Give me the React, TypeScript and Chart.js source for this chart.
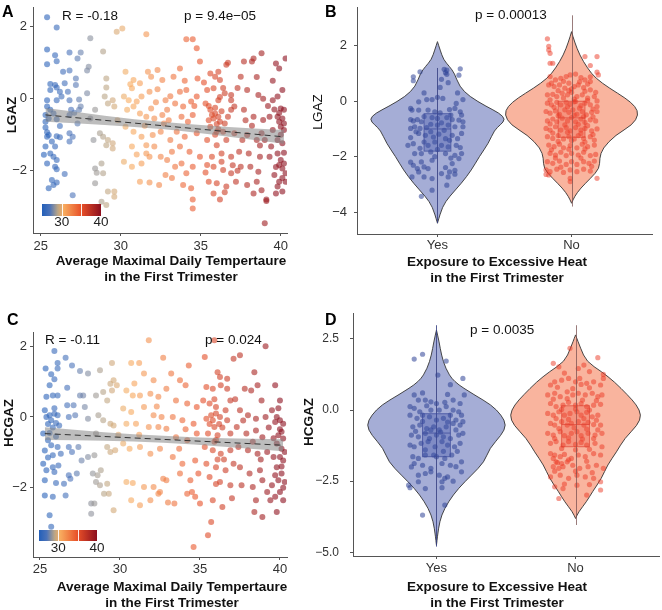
import React, { useEffect, useRef } from "react";
import { Chart, registerables } from "chart.js";

Chart.register(...registerables);

const FONT = "'Liberation Sans', Arial, Helvetica, sans-serif";
Chart.defaults.font.family = FONT;

// ---------------- data ----------------
const tempTicks = [25, 30, 35, 40];
const zTicksA = [-2, 0, 2];
const zTicksC = [-2, 0, 2];
const zTicksB = [-4, -2, 0, 2];
const zTicksD = [-5, -2.5, 0, 2.5];
const groups = ["Yes", "No"];
const groupPos = [1, 2];
const colorbarRange = [25, 40];
const colorbarLabels = [30, 40];
const colorbarMarks = [30, 35];

// Panel A: [average max temperature, LGAZ]
const scatterA = [
  [25.4,2.26],[26.0,1.98],[25.4,1.37],[25.4,0.96],[25.9,1.21],[26.0,1.04],[26.8,1.28],[27.3,1.12],[27.5,1.28],[28.1,1.68],
  [26.4,0.75],[26.8,0.78],[27.2,0.56],[27.9,0.78],[28.0,0.89],[25.6,0.41],[25.9,0.38],[26.0,0.31],[25.6,0.24],[26.2,0.19],
  [26.5,0.43],[27.2,0.38],[26.7,0.19],[25.4,-0.04],[26.0,-0.04],[26.3,0.06],[26.8,-0.04],[27.4,-0.02],[27.9,0.15],[25.4,-0.22],
  [25.6,-0.31],[25.3,-0.45],[25.5,-0.55],[25.3,-0.64],[25.8,-0.41],[26.0,-0.57],[26.2,-0.76],[26.9,-0.31],[26.8,-0.45],[27.1,-0.39],
  [27.4,-0.31],[27.5,-0.22],[27.3,-0.69],[28.1,-0.55],[28.4,-0.31],[25.4,-1.06],[25.5,-1.01],[25.3,-1.33],[25.7,-1.19],[25.9,-1.33],
  [26.0,-1.04],[26.2,-1.07],[26.8,-0.96],[27.0,-1.06],[26.8,-1.19],[25.2,-1.56],[25.6,-1.52],[25.8,-1.61],[26.0,-1.70],[25.9,-1.89],
  [26.0,-1.96],[25.4,-1.80],[26.5,-2.09],[25.7,-2.26],[25.8,-2.40],[25.5,-2.49],[26.0,-2.33],[27.0,-2.68],[28.3,-1.15],[28.4,-1.94],
  [28.5,-2.06],[28.4,-2.35],[25.3,-0.80],[25.4,-0.93],
  [28.9,1.31],[29.1,0.56],[29.1,0.31],[29.0,0.06],[29.5,-0.04],[29.6,-0.22],[29.2,-0.13],[28.7,-0.96],[28.9,-1.06],[29.2,-1.15],
  [29.5,-1.24],[29.1,-1.29],[29.5,-1.38],[28.8,-1.80],[28.9,-2.07],[29.2,-2.58],[29.6,-2.58],[29.6,-2.72],[29.1,-2.95],[28.8,-2.86],
  [29.75,1.86],[30.1,1.95],[31.6,1.79],[30.3,0.75],[30.8,0.52],[30.7,0.29],[31.2,0.43],[31.7,0.75],[31.9,0.61],[32.3,0.80],
  [32.6,0.52],[30.2,0.06],[30.5,-0.04],[31.0,-0.08],[31.3,0.06],[31.8,0.19],[32.3,0.26],[32.8,-0.04],[33.1,0.07],[30.4,-0.31],
  [30.8,-0.22],[31.2,-0.41],[31.6,-0.50],[31.9,-0.27],[32.1,-0.55],[32.6,-0.45],[32.9,-0.31],[30.3,-0.78],[30.8,-0.92],[31.3,-1.06],
  [31.6,-1.29],[32.0,-1.01],[32.5,-0.92],[33.1,-1.15],[30.7,-1.33],[30.2,-1.75],[30.7,-1.89],[31.3,-1.80],[31.8,-1.61],[32.5,-1.61],
  [32.9,-1.70],[31.2,-2.31],[31.8,-2.33],[32.4,-2.40],[32.8,-2.12],[31.6,-1.52],[32.1,-1.33],[33.4,-1.89],[33.2,-1.47],[32.7,-0.69],
  [33.3,0.61],[33.7,0.19],[34.1,0.24],[33.4,-0.13],[33.9,-0.22],[34.4,-0.08],[34.75,0.06],[33.8,-0.50],[34.2,-0.64],[34.5,-0.45],
  [33.5,-0.92],[34.0,-1.06],[34.75,-0.96],[33.7,-1.33],[34.3,-1.47],[34.95,-1.61],[33.8,-1.80],[34.5,-1.89],[34.1,-2.07],[33.9,-2.40],
  [34.4,-2.49],[34.5,-2.80],[34.5,-3.05],[34.1,1.65],[34.5,1.65],[34.75,1.40],[34.95,1.03],[33.7,0.84],[34.8,0.56],
  [35.6,0.70],[35.9,0.61],[36.2,0.52],[36.1,0.75],[36.6,0.94],[36.7,1.00],[35.4,0.24],[35.8,0.29],[36.5,0.15],[36.9,0.10],
  [35.3,-0.13],[35.6,-0.31],[35.9,-0.41],[35.8,-0.55],[36.1,-0.50],[36.2,-0.64],[36.5,-0.69],[35.6,-0.78],[36.0,-0.92],[36.4,-0.92],
  [36.9,-0.31],[35.4,-1.15],[36.0,-1.29],[36.6,-1.15],[36.3,-1.52],[35.7,-1.61],[36.9,-1.61],[35.4,-1.84],[35.8,-1.89],[36.4,-1.98],
  [36.9,-2.07],[35.5,-2.31],[36.0,-2.35],[36.6,-2.44],[35.8,-2.63],[36.2,-2.80],[37.0,-1.85],[36.9,-0.04],[36.1,-0.04],
  [35.9,-0.25],[36.0,-0.70],[35.7,-0.45],[36.3,-0.35],[36.1,-0.85],[35.5,-0.60],[36.4,0.30],[36.2,0.05],
  [37.5,0.61],[37.7,1.03],[38.2,1.03],[38.8,1.26],[38.3,1.12],[37.9,0.24],[38.6,0.10],[38.9,0.0],[37.1,-0.22],[37.7,-0.31],
  [38.3,-0.50],[38.9,-0.59],[37.1,-0.96],[37.9,-1.01],[38.5,-1.15],[39.0,-1.15],[37.4,-1.47],[38.0,-1.52],[38.7,-1.61],[37.5,-1.89],
  [38.1,-1.89],[38.6,-2.03],[37.2,-2.31],[37.9,-2.40],[38.5,-2.31],[38.8,-2.54],[38.3,-2.63],[39.1,-2.80],[39.1,-2.84],[39.0,-3.46],
  [37.6,-1.15],[38.8,-0.96],
  [39.7,0.98],[39.9,0.84],[40.3,1.12],[40.1,0.24],[39.8,0.06],[39.5,-0.04],[40.0,-0.27],[40.2,-0.31],[39.8,-0.50],[40.1,-0.55],
  [39.9,-0.64],[40.2,-0.69],[40.0,-0.78],[40.2,-0.87],[39.3,-0.50],[39.5,-0.87],[39.8,-1.15],[40.1,-1.24],[39.8,-1.52],[40.0,-1.70],
  [40.2,-1.80],[39.9,-1.84],[40.1,-1.94],[40.3,-2.07],[39.6,-2.12],[39.9,-2.31],[40.3,-2.31],[39.8,-2.44],[40.1,-2.58],[39.7,-2.63],
  [39.4,-1.33],[39.3,-1.61],
  [35.2,0.45],[35.5,-0.2],[35.9,-1.0],[36.3,-1.75],[35.3,-2.05],[36.7,-0.5],[37.3,0.3],[37.8,-0.6],[38.2,-0.75],[38.7,-1.3],
  [39.2,-0.2],[39.6,-0.3],[39.9,-0.4],[40.0,-1.0],[40.2,-1.5],[39.7,-1.9],[40.1,-2.2],[39.5,0.5],[38.5,0.6],[37.3,-2.0],
  [36.5,-2.6],[33.0,-0.6],[32.2,-0.1],[31.5,-0.75],[30.6,0.4],[31.0,-1.55],[29.8,-0.6],[34.0,0.5],[34.6,-0.2],[33.2,-2.2]
];
const fitAx = [25.3, 40.2];
const fitAy = [-0.45, -1.06];
const bandX = [25.3, 29, 32.7, 36.5, 40.2];
const bandALow = [-0.64, -0.73, -0.85, -1.04, -1.25];
const bandAHigh = [-0.26, -0.47, -0.65, -0.78, -0.87];

// Panel C: [average max temperature, HCGAZ]
const scatterC = [
  [25.9,1.87],[25.35,1.37],[26.1,1.53],[26.1,1.37],[26.6,1.68],[25.7,1.21],[25.9,1.07],[27.0,1.46],[27.5,1.30],[28.0,1.23],
  [25.6,0.90],[25.8,0.61],[26.1,0.61],[26.7,0.83],[27.5,0.61],[27.7,0.61],[25.4,0.57],[26.7,0.33],[27.1,0.33],[27.8,0.28],
  [25.3,0.19],[25.6,0.05],[25.9,0.09],[26.1,0.05],[25.4,0.0],[25.7,-0.09],[26.0,-0.17],[26.2,-0.24],[26.8,0.0],[27.2,0.05],
  [28.0,-0.05],[25.2,-0.47],[25.5,-0.66],[25.7,-0.80],[25.8,-1.08],[26.1,-0.85],[26.3,-1.04],[26.8,-0.85],[27.0,-0.99],[27.4,-0.85],
  [27.6,-1.23],[28.0,-1.13],[25.2,-1.32],[25.4,-1.51],[25.8,-1.42],[25.9,-1.56],[26.15,-1.37],[26.8,-1.65],[26.9,-1.75],[27.3,-1.60],
  [25.3,-1.79],[26.0,-1.87],[26.5,-1.89],[25.3,-2.22],[25.8,-2.26],[26.6,-2.22],[25.6,-2.78],[25.7,-3.11],[28.2,-2.74],
  [25.5,-0.20],[25.8,-0.30],[25.6,-0.45],[26.0,-0.55],[25.9,0.25],[25.3,-0.95],[25.5,-1.15],
  [28.75,1.32],[28.5,0.61],[28.95,0.71],[29.4,0.94],[29.6,1.04],[29.8,0.90],[29.5,0.75],[29.2,0.47],[28.65,0.05],[28.95,-0.09],
  [29.4,-0.19],[29.6,-0.24],[28.5,-0.47],[29.2,-0.85],[29.4,-0.99],[29.7,-0.94],[28.4,-1.08],[28.3,-1.60],[28.6,-1.65],[28.8,-1.51],
  [28.5,-1.84],[28.75,-1.93],[29.2,-1.89],[29.3,-2.17],[29.0,-2.17],[29.6,-2.64],[28.2,-2.45],[28.4,-2.45],
  [29.5,1.53],[30.7,1.53],[31.8,2.17],[31.2,1.53],[32.7,1.68],[31.5,1.23],[32.1,1.04],[30.4,0.75],[30.8,0.61],[31.25,0.61],
  [31.9,0.66],[32.4,0.57],[32.9,0.80],[30.2,0.24],[30.7,0.14],[31.5,0.28],[32.1,0.05],[32.6,0.0],[30.4,-0.19],[31.0,-0.19],
  [31.8,-0.28],[32.4,-0.28],[32.9,-0.33],[30.6,-0.90],[31.25,-0.85],[31.9,-1.04],[32.5,-0.90],[30.2,-0.75],[30.4,-1.84],[30.8,-1.87],
  [31.5,-1.98],[32.1,-1.98],[32.5,-2.12],[32.9,-1.79],[30.7,-2.36],[31.25,-2.50],[31.9,-2.36],[32.4,-2.17],[33.0,-2.42],[32.7,-1.75],
  [33.2,1.23],[33.75,1.04],[34.1,0.90],[33.5,0.47],[34.2,0.38],[34.8,0.28],[33.3,0.0],[33.9,-0.09],[34.6,-0.19],[33.5,-0.57],
  [34.2,-0.66],[34.8,-0.47],[33.3,-1.13],[33.9,-1.32],[34.7,-1.23],[33.75,-1.60],[34.4,-1.79],[34.9,-1.60],[34.2,-2.17],[34.7,-2.26],
  [35.0,-2.45],[33.4,-2.45],[34.5,-2.12],[34.6,-3.68],[34.3,1.46],
  [35.3,1.70],[35.9,2.17],[36.1,1.27],[36.25,1.13],[36.7,1.08],[37.1,1.65],[35.4,0.85],[35.8,0.80],[36.3,0.90],[36.7,0.80],
  [35.2,0.47],[35.6,0.38],[36.0,0.28],[36.6,0.19],[36.9,0.47],[35.4,-0.05],[35.8,-0.09],[36.25,0.0],[36.7,-0.09],[35.9,-0.28],
  [35.5,-0.47],[36.1,-0.52],[36.9,-0.47],[35.3,-0.85],[35.8,-0.94],[36.3,-1.04],[36.9,-0.94],[35.4,-1.32],[36.0,-1.42],[36.6,-1.51],
  [35.6,-1.70],[36.25,-1.84],[36.9,-1.93],[35.8,-2.36],[36.4,-2.55],[35.7,-2.97],[35.5,-3.35],[37.1,-1.32],
  [36.0,0.10],[36.2,-0.20],[35.9,-0.70],[36.1,-1.20],[35.7,0.05],
  [37.5,1.75],[38.4,1.27],[37.8,0.80],[38.2,0.75],[38.85,0.47],[37.5,0.19],[38.0,0.05],[38.5,-0.05],[39.1,0.0],[37.3,-0.28],
  [37.9,-0.47],[38.5,-0.38],[38.9,-0.57],[37.4,-0.85],[38.0,-0.94],[38.6,-1.04],[39.2,-0.99],[37.5,-1.42],[38.1,-1.60],[38.75,-1.51],
  [37.6,-1.93],[38.3,-1.98],[38.9,-1.79],[39.2,-2.12],[38.5,-2.36],[38.4,-2.69],[38.9,-2.83],[39.1,2.0],
  [39.7,0.90],[40.0,0.47],[39.5,0.19],[39.8,0.0],[40.0,-0.09],[40.2,-0.19],[39.7,-0.14],[40.1,-0.42],[39.9,-0.52],[40.2,-0.61],
  [39.8,-0.75],[40.1,-0.90],[40.3,-0.99],[39.6,-1.13],[40.0,-1.13],[40.2,-1.23],[39.8,-1.42],[40.1,-1.60],[39.9,-1.79],[40.3,-1.84],
  [39.5,-1.93],[40.0,-2.12],[39.7,-2.26],[40.2,-2.36],[39.8,-2.69],[39.4,-2.36],
  [35.6,-0.2],[36.0,-0.65],[36.4,-0.3],[35.9,0.5],[36.5,-1.2],[36.0,-1.9],[37.2,0.5],[37.7,-0.1],[38.3,-0.7],[38.8,-1.2],
  [39.3,-0.3],[39.6,-0.6],[40.0,-0.35],[40.1,-1.4],[39.7,-1.65],[40.2,-2.0],[39.9,0.25],[38.6,0.9],[37.0,-2.3],[34.1,-0.35],
  [33.7,-0.9],[32.3,0.3],[31.2,-0.5],[30.9,0.95],[29.9,-0.5]
];
const fitCx = [25.3, 40.2];
const fitCy = [-0.47, -0.80];
const bandCLow = [-0.65, -0.67, -0.73, -0.84, -0.97];
const bandCHigh = [-0.29, -0.43, -0.53, -0.60, -0.63];

// Panel B violins: density outline (value, half width in category units)
const vBYes = [2.15, 1.85, 1.5, 1.25, 1.01, 0.53, 0.17, -0.19, -0.43, -0.65, -0.85, -1.04, -1.52, -1.99, -2.48, -2.96, -3.44, -3.8, -4.4];
const hwBYes = [0, 0.02, 0.045, 0.09, 0.127, 0.164, 0.239, 0.365, 0.462, 0.507, 0.47, 0.425, 0.38, 0.313, 0.254, 0.179, 0.089, 0.037, 0];
const vBNo = [2.51, 2.15, 1.67, 1.19, 0.83, 0.47, 0.11, -0.19, -0.49, -0.85, -1.22, -1.70, -2.06, -2.42, -2.78, -3.14, -3.44, -3.68];
const hwBNo = [0, 0.022, 0.06, 0.119, 0.179, 0.283, 0.403, 0.477, 0.5, 0.455, 0.328, 0.231, 0.209, 0.209, 0.142, 0.067, 0.022, 0];
const boxBYes = [-1.8, -1.0, -0.45];
const boxBNo = [-1.3, -0.6, 0.0];
const whiskerBYes = [-4.4, 1.2];
const whiskerBNo = [-3.8, 3.1];
// jittered points: [offset from group, LGAZ]
const jitBYes = [
  [-0.18,0.88],[-0.18,0.74],[-0.13,1.06],[0.05,1.15],[0.06,1.03],[0.07,0.97],[0.03,0.79],[0.08,0.67],[0.17,1.17],[0.16,0.94],
  [0.07,1.12],[-0.14,-0.02],[-0.08,0.06],[-0.04,0.06],[0.0,0.14],[0.04,0.10],[0.14,-0.08],[0.19,0.06],[-0.20,-0.26],[-0.19,-0.32],
  [-0.14,-0.32],[-0.07,-0.32],[-0.02,-0.38],[0.02,-0.42],[0.09,-0.30],[0.13,-0.26],[0.17,-0.38],[0.18,-0.50],[-0.20,-0.66],[-0.18,-0.71],
  [-0.15,-0.66],[-0.12,-0.74],[-0.04,-0.59],[0.07,-0.59],[0.11,-0.66],[0.16,-0.68],[0.19,-0.74],[-0.20,-0.98],[-0.17,-0.92],[-0.13,-0.98],
  [-0.08,-0.95],[-0.05,-0.83],[0.0,-0.86],[0.03,-0.78],[0.08,-0.86],[0.13,-0.92],[0.19,-0.92],[-0.20,-1.31],[-0.14,-1.16],[-0.09,-1.23],
  [-0.03,-1.29],[0.01,-1.19],[0.06,-1.35],[0.11,-1.23],[0.18,-1.16],[-0.22,-1.59],[-0.18,-1.53],[-0.10,-1.47],[-0.07,-1.59],[-0.02,-1.47],
  [0.03,-1.59],[0.09,-1.41],[0.14,-1.59],[0.17,-1.67],[-0.17,-1.89],[-0.12,-1.89],[-0.05,-1.83],[0.0,-1.74],[0.06,-1.89],[0.13,-1.95],
  [0.18,-1.89],[0.16,-2.07],[-0.12,-2.19],[-0.04,-2.13],[0.11,-2.25],[-0.18,-2.31],[-0.15,-2.43],[-0.10,-2.37],[-0.07,-2.43],[0.06,-2.39],
  [0.09,-2.55],[0.13,-2.49],[-0.14,-2.55],[-0.19,-2.73],[-0.10,-2.73],[-0.04,-2.79],[0.03,-2.61],[0.08,-2.73],[0.13,-2.63],[0.07,-3.03],
  [-0.04,-3.21],[-0.12,-3.43],
  [-0.1,-0.55],[0.0,-0.62],[0.1,-0.5],[-0.16,-1.1],[-0.05,-1.1],[0.05,-1.05],[0.15,-1.35],[-0.13,-1.7],[0.08,-1.65],[-0.02,-2.0],
  [0.1,-2.05],[-0.2,-2.2],[0.15,0.3],[-0.1,0.3],[0.02,0.5]
];
const jitBNo = [
  [-0.18,2.25],[-0.17,1.98],[-0.17,1.85],[-0.16,1.73],[-0.16,1.37],[-0.14,1.37],[0.10,1.61],[0.19,1.61],[0.14,1.29],[0.19,1.05],
  [0.20,0.95],[-0.16,0.89],[-0.12,0.77],[-0.08,0.83],[-0.04,0.89],[-0.01,0.95],[0.03,0.98],[0.07,0.85],[0.10,0.77],[0.14,0.71],
  [-0.17,0.59],[-0.13,0.53],[-0.09,0.59],[-0.05,0.47],[-0.02,0.65],[0.02,0.53],[0.05,0.59],[0.09,0.49],[0.14,0.41],[0.18,0.32],
  [-0.18,0.23],[-0.14,0.25],[-0.11,0.17],[-0.07,0.29],[-0.03,0.23],[0.0,0.32],[0.04,0.17],[0.08,0.23],[0.12,0.11],[0.17,0.17],
  [0.19,0.01],[-0.18,-0.07],[-0.15,-0.13],[-0.11,-0.04],[-0.08,-0.13],[-0.04,-0.04],[-0.01,-0.11],[0.03,-0.01],[0.07,-0.16],[0.10,-0.07],
  [0.14,-0.13],[0.19,-0.19],[-0.19,-0.37],[-0.16,-0.43],[-0.12,-0.35],[-0.09,-0.47],[-0.05,-0.31],[-0.02,-0.40],[0.01,-0.31],[0.04,-0.47],
  [0.08,-0.37],[0.11,-0.49],[0.15,-0.40],[0.19,-0.37],[-0.18,-0.71],[-0.14,-0.64],[-0.11,-0.74],[-0.07,-0.61],[-0.03,-0.71],[0.0,-0.59],
  [0.03,-0.74],[0.07,-0.64],[0.10,-0.76],[0.14,-0.67],[0.18,-0.71],[-0.19,-0.98],[-0.16,-1.04],[-0.12,-0.92],[-0.08,-1.04],[-0.04,-0.95],
  [-0.01,-1.07],[0.03,-0.95],[0.07,-1.04],[0.10,-0.98],[0.15,-1.07],[0.19,-1.0],[-0.18,-1.28],[-0.14,-1.34],[-0.10,-1.24],[-0.06,-1.36],
  [-0.02,-1.28],[0.02,-1.36],[0.05,-1.24],[0.09,-1.34],[0.14,-1.28],[0.17,-1.40],[-0.17,-1.58],[-0.13,-1.64],[-0.09,-1.55],[-0.06,-1.68],
  [-0.01,-1.60],[0.04,-1.68],[0.08,-1.55],[0.12,-1.64],[0.17,-1.58],[-0.16,-1.88],[-0.12,-1.94],[-0.08,-1.84],[-0.04,-1.96],[0.0,-1.88],
  [0.05,-1.94],[0.09,-1.84],[0.14,-1.96],[0.18,-1.92],[-0.18,-2.18],[-0.14,-2.24],[-0.09,-2.16],[-0.04,-2.28],[0.0,-2.18],[0.04,-2.28],
  [0.09,-2.18],[0.13,-2.24],[0.17,-2.16],[-0.19,-2.48],[-0.16,-2.54],[-0.11,-2.45],[-0.06,-2.57],[-0.01,-2.48],[0.04,-2.54],[0.09,-2.45],
  [0.14,-2.52],[-0.19,-2.64],[-0.17,-2.66],[-0.01,-2.78],[-0.01,-2.90],[0.19,-2.78],
  [-0.15,0.65],[-0.06,0.72],[0.06,0.7],[0.12,0.62],[-0.1,0.38],[0.0,0.45],[0.1,0.36],[-0.16,0.05],[-0.06,0.12],[0.02,0.08],
  [0.12,0.02],[-0.13,-0.22],[-0.03,-0.2],[0.06,-0.25],[0.16,-0.28],[-0.1,-0.52],[0.02,-0.5],[0.09,-0.55],[0.16,-0.56],[-0.16,-0.82],
  [-0.05,-0.85],[0.05,-0.83],[0.12,-0.88],[-0.14,-1.15],[-0.03,-1.12],[0.07,-1.16],[0.16,-1.2],[-0.1,-1.45],[0.0,-1.42],[0.1,-1.47],
  [-0.15,-1.75],[-0.02,-1.73],[0.1,-1.72],[-0.12,-2.05],[0.07,-2.05],[0.15,-2.35],[-0.08,-2.38],[0.02,-0.02],[-0.02,0.38],[0.14,0.88]
];

// Panel D violins
const vDYes = [2.81, 2.40, 1.93, 1.47, 1.0, 0.53, 0.18, -0.18, -0.53, -0.88, -1.35, -1.82, -2.29, -2.75, -3.22, -3.69, -4.16, -4.75];
const hwDYes = [0, 0.019, 0.036, 0.065, 0.122, 0.273, 0.395, 0.467, 0.503, 0.467, 0.381, 0.345, 0.252, 0.158, 0.086, 0.036, 0.014, 0];
const vDNo = [2.64, 2.17, 1.70, 1.35, 0.99, 0.53, 0.18, -0.18, -0.53, -1.0, -1.47, -1.93, -2.40, -2.87, -3.22, -3.58, -3.81];
const hwDNo = [0, 0.036, 0.079, 0.187, 0.28, 0.374, 0.439, 0.474, 0.446, 0.352, 0.295, 0.23, 0.187, 0.122, 0.079, 0.022, 0];
const boxDYes = [-1.64, -0.81, -0.13];
const boxDNo = [-1.29, -0.51, 0.15];
const whiskerDYes = [-4.8, 2.98];
const whiskerDNo = [-4.04, 2.98];
const jitDYes = [
  [-0.16,1.79],[-0.10,1.96],[0.07,1.72],[0.01,1.23],[0.19,1.11],[0.10,0.89],[-0.16,0.53],[-0.13,0.35],[-0.08,0.35],[-0.04,0.29],
  [0,0.23],[0.06,0.27],[0.12,0.35],[0.17,0.23],[0.20,0.53],[-0.19,0.12],[-0.16,0.06],[-0.12,-0.06],[-0.07,0.15],[-0.04,0.0],
  [0.02,0.0],[0.07,0.12],[0.12,0.0],[0.16,-0.06],[-0.19,-0.18],[-0.14,-0.29],[-0.10,-0.18],[-0.05,-0.24],[0,-0.35],[0.05,-0.29],
  [0.10,-0.18],[0.14,-0.35],[0.18,-0.18],[-0.17,-0.59],[-0.12,-0.53],[-0.07,-0.65],[-0.04,-0.70],[-0.02,-0.59],[0.02,-0.70],[0.07,-0.59],
  [0.12,-0.47],[0.17,-0.53],[0.19,-0.41],[-0.18,-0.88],[-0.13,-0.94],[-0.08,-0.82],[-0.05,-1.0],[0,-0.88],[0.05,-0.94],[0.10,-1.0],
  [0.16,-0.88],[0.19,-0.82],[-0.19,-1.23],[-0.16,-1.29],[-0.11,-1.17],[-0.06,-1.11],[-0.01,-1.29],[0.04,-1.11],[0.08,-1.23],[0.13,-1.29],
  [0.17,-1.17],[-0.17,-1.64],[-0.13,-1.70],[-0.08,-1.58],[-0.02,-1.58],[0,-1.64],[0.06,-1.70],[0.11,-1.58],[0.18,-1.82],[-0.16,-1.88],
  [-0.10,-1.94],[-0.04,-2.05],[0.04,-1.88],[0.10,-1.94],[0.14,-1.99],[-0.13,-2.29],[-0.08,-2.23],[-0.04,-2.17],[0.02,-2.29],[0.08,-2.35],
  [0.18,-2.17],[-0.20,-2.64],[-0.19,-2.73],[-0.13,-2.52],[-0.08,-2.76],[0.04,-2.52],[0.04,-2.73],[0.06,-3.34],[-0.10,-3.69],[0.06,-2.40],
  [-0.1,-0.4],[0.08,-0.42],[-0.15,-0.75],[0.03,-0.78],[0.14,-0.7],[-0.08,-1.4],[0.05,-1.45],[0.15,-1.45],[-0.18,-2.0],[0.12,-2.5],
  [-0.1,0.6],[0.08,0.55]
];
const jitDNo = [
  [-0.04,2.17],[0.16,1.84],[-0.16,1.64],[-0.12,1.52],[0.02,1.46],[0.06,1.58],[0.20,1.25],[0.20,1.11],[-0.18,0.88],[-0.15,0.99],
  [-0.10,1.05],[-0.05,1.11],[0,0.99],[0.03,1.11],[0.08,0.94],[0.13,0.99],[0.18,0.88],[-0.20,0.53],[-0.15,0.59],[-0.11,0.47],
  [-0.06,0.64],[-0.02,0.53],[0.02,0.59],[0.07,0.53],[0.12,0.59],[0.16,0.47],[0.19,0.53],[-0.18,0.23],[-0.14,0.12],[-0.09,0.17],
  [-0.05,0.27],[0,0.17],[0.04,0.23],[0.08,0.12],[0.13,0.17],[0.18,0.20],[-0.20,-0.12],[-0.16,-0.18],[-0.12,-0.06],[-0.08,-0.18],
  [-0.04,-0.12],[0.01,-0.06],[0.04,-0.18],[0.08,-0.08],[0.12,-0.24],[0.16,-0.18],[-0.18,-0.47],[-0.15,-0.53],[-0.10,-0.41],[-0.06,-0.53],
  [-0.03,-0.47],[0.02,-0.41],[0.06,-0.53],[0.09,-0.43],[0.13,-0.51],[0.18,-0.53],[-0.20,-0.82],[-0.16,-0.88],[-0.11,-0.76],[-0.08,-0.90],
  [-0.03,-0.82],[0.01,-0.76],[0.04,-0.90],[0.09,-0.82],[0.14,-0.88],[0.19,-0.82],[-0.18,-1.17],[-0.14,-1.11],[-0.09,-1.23],[-0.05,-1.11],
  [0,-1.21],[0.04,-1.14],[0.08,-1.23],[0.14,-1.17],[0.19,-1.29],[-0.18,-1.53],[-0.15,-1.58],[-0.11,-1.64],[-0.08,-1.56],[-0.03,-1.70],
  [0.02,-1.58],[0.07,-1.64],[0.13,-1.53],[0.18,-1.58],[-0.14,-1.82],[-0.10,-1.88],[-0.06,-1.82],[-0.16,-1.99],[-0.12,-2.05],[-0.09,-1.99],
  [-0.02,-1.94],[0.03,-2.05],[0.09,-1.99],[0.15,-1.94],[0.20,-2.05],[-0.18,-2.35],[-0.11,-2.29],[-0.05,-2.40],[0.01,-2.29],[0.07,-2.35],
  [0.13,-2.40],[0.18,-2.52],[-0.15,-2.70],[-0.09,-2.76],[0.01,-2.64],[0.08,-2.99],[-0.12,-3.11],[0.18,-2.81],
  [-0.13,0.8],[-0.02,0.75],[0.1,0.78],[-0.16,0.38],[-0.06,0.4],[0.05,0.35],[0.15,0.33],[-0.1,0.02],[0.0,0.04],[0.1,0.0],
  [-0.14,-0.3],[-0.05,-0.33],[0.06,-0.3],[0.15,-0.36],[-0.12,-0.65],[-0.01,-0.62],[0.08,-0.67],[0.16,-0.7],[-0.15,-1.0],[-0.05,-0.98],
  [0.05,-1.02],[0.13,-1.0],[-0.1,-1.35],[0.0,-1.4],[0.1,-1.38],[-0.16,-1.7],[-0.05,-1.75],[0.08,-1.8],[-0.13,-1.85],[-0.15,-2.15],
  [0.0,-2.15],[0.12,-2.2],[-0.08,-2.6],[0.1,-2.62],[0.04,0.9],[-0.08,1.3],[0.1,1.35]
];

// ---------------- styles ----------------
const TEMP_STOP_T = [25, 27, 29, 30.5, 35, 40];
const TEMP_STOP_C = [[35, 95, 185], [75, 115, 185], [185, 165, 135], [248, 172, 95], [232, 80, 40], [140, 15, 30]];

function rgba(c: number[], a: number) {
  return `rgba(${c[0]},${c[1]},${c[2]},${a})`;
}
function tempColor(t: number, a: number) {
  const T = TEMP_STOP_T, C = TEMP_STOP_C;
  if (t <= T[0]) return rgba(C[0], a);
  for (let i = 1; i < T.length; i++) {
    if (t <= T[i]) {
      const f = (t - T[i - 1]) / (T[i] - T[i - 1]);
      return rgba(C[i - 1].map((c, k) => Math.round(c + (C[i][k] - c) * f)), a);
    }
  }
  return rgba(C[C.length - 1], a);
}
const minusFmt = (v: number, d: number) => (v < 0 ? "\u2212" : "") + Math.abs(v).toFixed(d);

function txt(ctx: any, s: string, x: number, y: number, font: string, align = "left", base = "middle", color = "#111") {
  ctx.font = font;
  ctx.textAlign = align;
  ctx.textBaseline = base;
  ctx.fillStyle = color;
  ctx.fillText(s, x, y);
}
function vtxt(ctx: any, s: string, x: number, y: number, font: string) {
  ctx.save();
  ctx.translate(x, y);
  ctx.rotate(-Math.PI / 2);
  txt(ctx, s, 0, 0, font, "center", "middle");
  ctx.restore();
}

function axis(min: number, max: number, ticks: number[], fmt: (v: number) => string, pad: number, fit: (s: any) => void, fontSize = 13) {
  return {
    type: "linear",
    min,
    max,
    afterBuildTicks: (s: any) => {
      s.ticks = ticks.map((v) => ({ value: v }));
    },
    afterFit: fit,
    ticks: {
      callback: (v: any) => fmt(Number(v)),
      padding: pad,
      color: "#333",
      font: { family: FONT, size: fontSize },
      maxRotation: 0,
      autoSkip: false,
    },
    grid: { display: true, drawOnChartArea: false, drawTicks: true, tickLength: 3, color: "#555", tickColor: "#555" },
    border: { display: true, color: "#555", width: 1 },
  };
}
const xFit = (s: any) => {
  s.height = 24;
  s.paddingLeft = 0;
  s.paddingRight = 0;
};
const yFit = (w: number) => (s: any) => {
  s.width = w;
  s.paddingTop = 0;
  s.paddingBottom = 0;
};

// ---------------- scatter panel ----------------
function makeScatter(canvas: HTMLCanvasElement, p: any) {
  const decor = {
    id: "decor" + p.letter,
    afterDraw(chart: any) {
      const ctx = chart.ctx;
      ctx.save();
      txt(ctx, p.letter, p.letterXY[0], p.letterXY[1], "bold 16px " + FONT, "left", "alphabetic", "#000");
      txt(ctx, p.rText, p.rXY[0], p.rXY[1], "13.5px " + FONT);
      txt(ctx, p.pText, p.pXY[0], p.pXY[1], "13.5px " + FONT);
      vtxt(ctx, p.yTitle, p.yTitleXY[0], p.yTitleXY[1], "bold 13.5px " + FONT);
      p.xTitle.forEach((s: string, i: number) => txt(ctx, s, p.xTitleX, p.xTitleY[i], "bold 13.5px " + FONT, "center"));
      const [bx, by, bw, bh, ly] = p.bar;
      const span = colorbarRange[1] - colorbarRange[0];
      const g = ctx.createLinearGradient(bx, 0, bx + bw, 0);
      TEMP_STOP_T.forEach((t, i) => g.addColorStop((t - colorbarRange[0]) / span, rgba(TEMP_STOP_C[i], 1)));
      ctx.fillStyle = g;
      ctx.fillRect(bx, by, bw, bh);
      ctx.strokeStyle = "rgba(255,255,255,0.9)";
      ctx.lineWidth = 1;
      colorbarMarks.forEach((t) => {
        const x = Math.round(bx + ((t - colorbarRange[0]) / span) * bw) + 0.5;
        ctx.beginPath();
        ctx.moveTo(x, by);
        ctx.lineTo(x, by + bh);
        ctx.stroke();
      });
      colorbarLabels.forEach((t) =>
        txt(ctx, String(t), bx + ((t - colorbarRange[0]) / span) * bw, ly, "13.5px " + FONT, "center", "middle", "#222")
      );
      ctx.restore();
    },
  };
  return new Chart(canvas, {
    type: "scatter",
    data: {
      datasets: [
        {
          type: "line",
          data: p.fitX.map((x: number, i: number) => ({ x, y: p.fitY[i] })),
          borderColor: "#333",
          borderWidth: 1,
          borderDash: [6, 4],
          pointRadius: 0,
          fill: false,
        },
        {
          type: "line",
          data: bandX.map((x, i) => ({ x, y: p.bandHigh[i] })),
          borderColor: "rgba(0,0,0,0)",
          borderWidth: 0,
          pointRadius: 0,
          cubicInterpolationMode: "monotone",
          fill: "+1",
          backgroundColor: "rgba(135,135,135,0.55)",
        },
        {
          type: "line",
          data: bandX.map((x, i) => ({ x, y: p.bandLow[i] })),
          borderColor: "rgba(0,0,0,0)",
          borderWidth: 0,
          pointRadius: 0,
          cubicInterpolationMode: "monotone",
          fill: false,
        },
        {
          type: "scatter",
          data: p.points.map((q: number[]) => ({ x: q[0], y: q[1] })),
          backgroundColor: p.points.map((q: number[]) => tempColor(q[0], 0.6)),
          borderWidth: 0,
          pointRadius: 3,
          pointHoverRadius: 3,
        },
      ],
    },
    options: {
      animation: false,
      responsive: false,
      devicePixelRatio: 1,
      events: [],
      layout: { padding: p.padding },
      plugins: { legend: { display: false }, tooltip: { enabled: false } },
      scales: {
        x: axis(p.xRange[0], p.xRange[1], tempTicks, (v) => String(v), p.xPad, xFit),
        y: axis(p.yRange[0], p.yRange[1], p.yTicks, (v) => minusFmt(v, 0), 3, yFit(p.yWidth)),
      },
    },
    plugins: [decor],
  } as any);
}

// ---------------- violin panel ----------------
function smoothClosed(ctx: any, pts: number[][]) {
  const n = pts.length;
  const mid = (a: number[], b: number[]) => [(a[0] + b[0]) / 2, (a[1] + b[1]) / 2];
  ctx.beginPath();
  const m0 = mid(pts[n - 1], pts[0]);
  ctx.moveTo(m0[0], m0[1]);
  for (let i = 0; i < n; i++) {
    const a = pts[i], b = pts[(i + 1) % n];
    const m = mid(a, b);
    ctx.quadraticCurveTo(a[0], a[1], m[0], m[1]);
  }
  ctx.closePath();
}

function makeViolin(canvas: HTMLCanvasElement, p: any) {
  const fills = ["rgba(165,173,214,1)", "rgba(249,180,158,1)"];
  const boxFill = ["rgba(60,80,165,0.35)", "rgba(235,75,55,0.3)"];
  const boxLine = ["rgba(60,75,155,0.75)", "rgba(220,60,45,0.65)"];
  const whiskerCol = ["rgba(55,65,130,0.85)", "rgba(120,80,80,0.75)"];
  const ptCol = ["rgba(45,65,150,0.55)", "rgba(235,55,35,0.5)"];
  const plugin = {
    id: "violin" + p.letter,
    beforeDatasetsDraw(chart: any) {
      const ctx = chart.ctx, xs = chart.scales.x, ys = chart.scales.y;
      ctx.save();
      p.violins.forEach((vi: any, g: number) => {
        const pts: number[][] = [];
        for (let i = 0; i < vi.v.length; i++)
          pts.push([xs.getPixelForValue(groupPos[g] - vi.hw[i]), ys.getPixelForValue(vi.v[i])]);
        for (let i = vi.v.length - 1; i >= 0; i--)
          pts.push([xs.getPixelForValue(groupPos[g] + vi.hw[i]), ys.getPixelForValue(vi.v[i])]);
        smoothClosed(ctx, pts);
        ctx.fillStyle = fills[g];
        ctx.fill();
        ctx.strokeStyle = "#333";
        ctx.lineWidth = 0.9;
        ctx.stroke();
      });
      ctx.restore();
    },
    afterDatasetsDraw(chart: any) {
      const ctx = chart.ctx, xs = chart.scales.x, ys = chart.scales.y;
      ctx.save();
      p.violins.forEach((vi: any, g: number) => {
        const cx = Math.round(xs.getPixelForValue(groupPos[g])) + 0.5;
        ctx.strokeStyle = whiskerCol[g];
        ctx.lineWidth = 1;
        ctx.beginPath();
        ctx.moveTo(cx, ys.getPixelForValue(vi.whisker[1]));
        ctx.lineTo(cx, ys.getPixelForValue(vi.whisker[0]));
        ctx.stroke();
        const x0 = xs.getPixelForValue(groupPos[g] - 0.1), x1 = xs.getPixelForValue(groupPos[g] + 0.1);
        const yq1 = ys.getPixelForValue(vi.box[0]), ym = ys.getPixelForValue(vi.box[1]), yq3 = ys.getPixelForValue(vi.box[2]);
        ctx.fillStyle = boxFill[g];
        ctx.fillRect(x0, yq3, x1 - x0, yq1 - yq3);
        ctx.strokeStyle = boxLine[g];
        ctx.strokeRect(x0, yq3, x1 - x0, yq1 - yq3);
        ctx.beginPath();
        ctx.moveTo(x0, ym);
        ctx.lineTo(x1, ym);
        ctx.stroke();
      });
      txt(ctx, p.letter, p.letterXY[0], p.letterXY[1], "bold 16px " + FONT, "left", "alphabetic", "#000");
      txt(ctx, p.pText, p.pXY[0], p.pXY[1], "13.5px " + FONT);
      vtxt(ctx, p.yTitle, p.yTitleXY[0], p.yTitleXY[1], (p.yTitleBold ? "bold " : "") + "13.5px " + FONT);
      p.xTitle.forEach((s: string, i: number) => txt(ctx, s, p.xTitleX, p.xTitleY[i], "bold 13.5px " + FONT, "center"));
      ctx.restore();
    },
  };
  return new Chart(canvas, {
    type: "scatter",
    data: {
      datasets: p.jitter.map((pts: number[][], g: number) => ({
        data: pts.map((q) => ({ x: groupPos[g] + q[0], y: q[1] })),
        backgroundColor: ptCol[g],
        borderWidth: 0,
        pointRadius: 2.6,
        pointHoverRadius: 2.6,
      })),
    },
    options: {
      animation: false,
      responsive: false,
      devicePixelRatio: 1,
      events: [],
      layout: { padding: p.padding },
      plugins: { legend: { display: false }, tooltip: { enabled: false } },
      scales: {
        x: axis(0.4, 2.6, groupPos, (v) => groups[groupPos.indexOf(v)] || "", p.xPad, xFit),
        y: axis(p.yRange[0], p.yRange[1], p.yTicks, (v) => minusFmt(v, p.yDigits), p.yPad, yFit(p.yWidth), p.yFont),
      },
    },
    plugins: [plugin],
  } as any);
}

// ---------------- panel layouts ----------------
const heatTitle = ["Exposure to Excessive Heat", "in the First Trimester"];
const tempTitle = ["Average Maximal Daily Tempertaure", "in the First Trimester"];

const panelA = {
  letter: "A", letterXY: [2, 16.5],
  points: scatterA, fitX: fitAx, fitY: fitAy, bandLow: bandALow, bandHigh: bandAHigh,
  xRange: [24.52, 40.39], yRange: [-3.73, 2.547], yTicks: zTicksA,
  padding: { left: 0, top: 7, right: 375, bottom: 353 }, yWidth: 33, xPad: 3,
  rText: "R = -0.18", rXY: [62, 16], pText: "p = 9.4e\u221205", pXY: [184, 16],
  yTitle: "LGAZ", yTitleXY: [12, 115],
  xTitle: tempTitle, xTitleX: 171, xTitleY: [261, 277],
  bar: [42, 204, 59, 12, 222],
};
const panelC = {
  letter: "C", letterXY: [7, 325],
  points: scatterC, fitX: fitCx, fitY: fitCy, bandLow: bandCLow, bandHigh: bandCHigh,
  xRange: [24.5625, 40.44], yRange: [-3.963, 2.406], yTicks: zTicksC,
  padding: { left: 0, top: 332, right: 375, bottom: 29 }, yWidth: 33, xPad: 2,
  rText: "R = -0.11", rXY: [45, 340], pText: "p = 0.024", pXY: [205, 340],
  yTitle: "HCGAZ", yTitleXY: [9, 423],
  xTitle: tempTitle, xTitleX: 172, xTitleY: [587.5, 603.5],
  bar: [39, 530, 58, 11, 548],
};
const panelB = {
  letter: "B", letterXY: [325, 16.5],
  violins: [
    { v: vBYes, hw: hwBYes, box: boxBYes, whisker: whiskerBYes },
    { v: vBNo, hw: hwBNo, box: boxBNo, whisker: whiskerBNo },
  ],
  jitter: [jitBYes, jitBNo],
  yRange: [-4.79, 3.40], yTicks: zTicksB, yDigits: 0, yFont: 13,
  padding: { left: 326, top: 7, right: 10, bottom: 352 }, yWidth: 31, yPad: 7, xPad: 0.5,
  pText: "p = 0.00013", pXY: [475, 15.5],
  yTitle: "LGAZ", yTitleBold: false, yTitleXY: [318, 112],
  xTitle: heatTitle, xTitleX: 497, xTitleY: [262, 278],
};
const panelD = {
  letter: "D", letterXY: [325, 325],
  violins: [
    { v: vDYes, hw: hwDYes, box: boxDYes, whisker: whiskerDYes },
    { v: vDNo, hw: hwDNo, box: boxDNo, whisker: whiskerDNo },
  ],
  jitter: [jitDYes, jitDNo],
  yRange: [-5.13, 3.41], yTicks: zTicksD, yDigits: 1, yFont: 12,
  padding: { left: 312, top: 313, right: 3, bottom: 30 }, yWidth: 41, yPad: 11, xPad: 1.5,
  pText: "p = 0.0035", pXY: [470, 330],
  yTitle: "HCGAZ", yTitleBold: true, yTitleXY: [309, 422],
  xTitle: heatTitle, xTitleX: 497, xTitleY: [587.5, 603.5],
};

export default function App() {
  const rA = useRef<HTMLCanvasElement>(null);
  const rB = useRef<HTMLCanvasElement>(null);
  const rC = useRef<HTMLCanvasElement>(null);
  const rD = useRef<HTMLCanvasElement>(null);
  useEffect(() => {
    const charts = [
      makeScatter(rA.current as HTMLCanvasElement, panelA),
      makeViolin(rB.current as HTMLCanvasElement, panelB),
      makeScatter(rC.current as HTMLCanvasElement, panelC),
      makeViolin(rD.current as HTMLCanvasElement, panelD),
    ];
    return () => charts.forEach((c) => c.destroy());
  }, []);
  const cs: any = { position: "absolute", left: 0, top: 0, width: 662, height: 610 };
  return (
    <div style={{ position: "absolute", left: 0, top: 0, width: 662, height: 610, background: "#fff" }}>
      <canvas ref={rA} width={662} height={610} style={cs} />
      <canvas ref={rB} width={662} height={610} style={cs} />
      <canvas ref={rC} width={662} height={610} style={cs} />
      <canvas ref={rD} width={662} height={610} style={cs} />
    </div>
  );
}
